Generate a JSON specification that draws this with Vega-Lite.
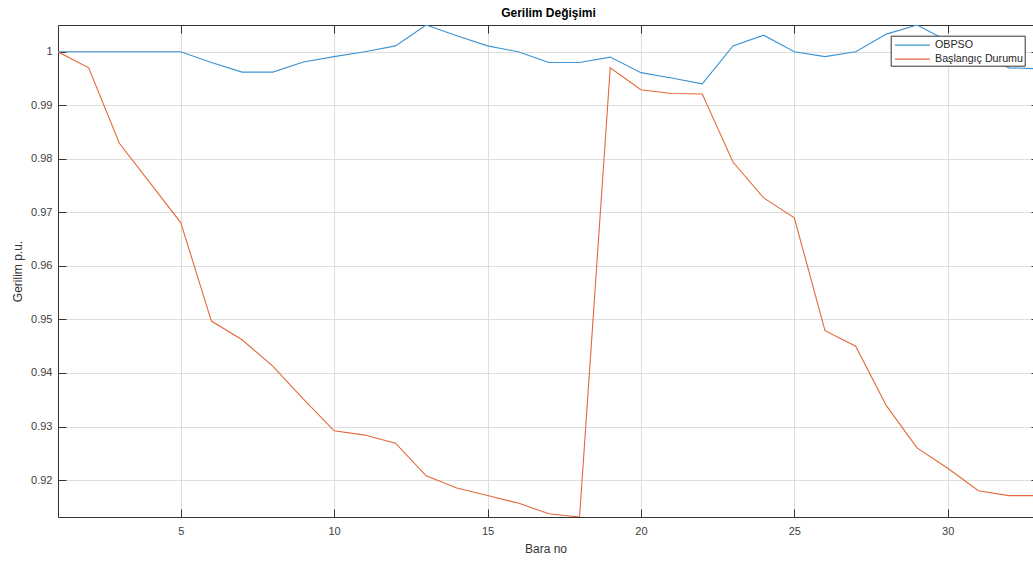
{
  "$schema": "https://vega.github.io/schema/vega-lite/v6.json",
  "autosize": {"type": "none"},
  "width": 975,
  "height": 492,
  "padding": {"left": 58, "top": 25, "right": 0, "bottom": 44},
  "background": "white",
  "title": {"text": "Gerilim Değişimi", "font": "Liberation Sans", "fontSize": 12, "fontWeight": "bold", "color": "#000000", "anchor": "middle", "offset": 5, "dx": 3},
  "config": {
    "view": {"stroke": null},
    "font": "Liberation Sans"
  },
  "data": {"values": [
    {"bara": 1, "seri": "OBPSO", "gerilim": 1.0},
    {"bara": 2, "seri": "OBPSO", "gerilim": 1.0},
    {"bara": 3, "seri": "OBPSO", "gerilim": 1.0},
    {"bara": 4, "seri": "OBPSO", "gerilim": 1.0},
    {"bara": 5, "seri": "OBPSO", "gerilim": 1.0},
    {"bara": 6, "seri": "OBPSO", "gerilim": 0.998},
    {"bara": 7, "seri": "OBPSO", "gerilim": 0.9962},
    {"bara": 8, "seri": "OBPSO", "gerilim": 0.9962},
    {"bara": 9, "seri": "OBPSO", "gerilim": 0.9981},
    {"bara": 10, "seri": "OBPSO", "gerilim": 0.9991},
    {"bara": 11, "seri": "OBPSO", "gerilim": 1.0},
    {"bara": 12, "seri": "OBPSO", "gerilim": 1.0011},
    {"bara": 13, "seri": "OBPSO", "gerilim": 1.005},
    {"bara": 14, "seri": "OBPSO", "gerilim": 1.003},
    {"bara": 15, "seri": "OBPSO", "gerilim": 1.0011},
    {"bara": 16, "seri": "OBPSO", "gerilim": 1.0},
    {"bara": 17, "seri": "OBPSO", "gerilim": 0.998},
    {"bara": 18, "seri": "OBPSO", "gerilim": 0.998},
    {"bara": 19, "seri": "OBPSO", "gerilim": 0.999},
    {"bara": 20, "seri": "OBPSO", "gerilim": 0.9961},
    {"bara": 21, "seri": "OBPSO", "gerilim": 0.9951},
    {"bara": 22, "seri": "OBPSO", "gerilim": 0.994},
    {"bara": 23, "seri": "OBPSO", "gerilim": 1.0011},
    {"bara": 24, "seri": "OBPSO", "gerilim": 1.0031},
    {"bara": 25, "seri": "OBPSO", "gerilim": 1.0},
    {"bara": 26, "seri": "OBPSO", "gerilim": 0.9991},
    {"bara": 27, "seri": "OBPSO", "gerilim": 1.0},
    {"bara": 28, "seri": "OBPSO", "gerilim": 1.0033},
    {"bara": 29, "seri": "OBPSO", "gerilim": 1.005},
    {"bara": 30, "seri": "OBPSO", "gerilim": 1.002},
    {"bara": 31, "seri": "OBPSO", "gerilim": 0.9995},
    {"bara": 32, "seri": "OBPSO", "gerilim": 0.997},
    {"bara": 33, "seri": "OBPSO", "gerilim": 0.9968},
    {"bara": 1, "seri": "Başlangıç Durumu", "gerilim": 1.0},
    {"bara": 2, "seri": "Başlangıç Durumu", "gerilim": 0.997},
    {"bara": 3, "seri": "Başlangıç Durumu", "gerilim": 0.9829},
    {"bara": 4, "seri": "Başlangıç Durumu", "gerilim": 0.9755},
    {"bara": 5, "seri": "Başlangıç Durumu", "gerilim": 0.9681},
    {"bara": 6, "seri": "Başlangıç Durumu", "gerilim": 0.9497},
    {"bara": 7, "seri": "Başlangıç Durumu", "gerilim": 0.9462},
    {"bara": 8, "seri": "Başlangıç Durumu", "gerilim": 0.9413},
    {"bara": 9, "seri": "Başlangıç Durumu", "gerilim": 0.9351},
    {"bara": 10, "seri": "Başlangıç Durumu", "gerilim": 0.9292},
    {"bara": 11, "seri": "Başlangıç Durumu", "gerilim": 0.9284},
    {"bara": 12, "seri": "Başlangıç Durumu", "gerilim": 0.9269},
    {"bara": 13, "seri": "Başlangıç Durumu", "gerilim": 0.9208},
    {"bara": 14, "seri": "Başlangıç Durumu", "gerilim": 0.9185},
    {"bara": 15, "seri": "Başlangıç Durumu", "gerilim": 0.9171},
    {"bara": 16, "seri": "Başlangıç Durumu", "gerilim": 0.9157},
    {"bara": 17, "seri": "Başlangıç Durumu", "gerilim": 0.9137},
    {"bara": 18, "seri": "Başlangıç Durumu", "gerilim": 0.9131},
    {"bara": 19, "seri": "Başlangıç Durumu", "gerilim": 0.9970},
    {"bara": 20, "seri": "Başlangıç Durumu", "gerilim": 0.9929},
    {"bara": 21, "seri": "Başlangıç Durumu", "gerilim": 0.9922},
    {"bara": 22, "seri": "Başlangıç Durumu", "gerilim": 0.9921},
    {"bara": 23, "seri": "Başlangıç Durumu", "gerilim": 0.9794},
    {"bara": 24, "seri": "Başlangıç Durumu", "gerilim": 0.9727},
    {"bara": 25, "seri": "Başlangıç Durumu", "gerilim": 0.9690},
    {"bara": 26, "seri": "Başlangıç Durumu", "gerilim": 0.9479},
    {"bara": 27, "seri": "Başlangıç Durumu", "gerilim": 0.9450},
    {"bara": 28, "seri": "Başlangıç Durumu", "gerilim": 0.9339},
    {"bara": 29, "seri": "Başlangıç Durumu", "gerilim": 0.9260},
    {"bara": 30, "seri": "Başlangıç Durumu", "gerilim": 0.9222},
    {"bara": 31, "seri": "Başlangıç Durumu", "gerilim": 0.9180},
    {"bara": 32, "seri": "Başlangıç Durumu", "gerilim": 0.9171},
    {"bara": 33, "seri": "Başlangıç Durumu", "gerilim": 0.9171}
  ]},
  "layer": [
    {
      "mark": {"type": "line", "strokeWidth": 1.1, "clip": true},
      "encoding": {
        "x": {"field": "bara", "type": "quantitative",
          "scale": {"domain": [1, 32.78], "nice": false, "zero": false},
          "axis": {"orient": "bottom", "title": "Bara no", "values": [5, 10, 15, 20, 25, 30],
            "grid": true, "gridColor": "#dedede", "gridWidth": 1,
            "domain": true, "domainColor": "#333333", "domainWidth": 1,
            "ticks": true, "tickSize": -8, "tickColor": "#333333", "tickWidth": 1,
            "labelFont": "Liberation Sans", "labelFontSize": 11, "labelColor": "#404040", "labelPadding": 16,
            "titleFont": "Liberation Sans", "titleFontSize": 12, "titleFontWeight": "normal", "titleColor": "#333333", "titlePadding": 7}},
        "y": {"field": "gerilim", "type": "quantitative",
          "scale": {"domain": [0.9131, 1.005], "nice": false, "zero": false},
          "axis": {"orient": "left", "title": "Gerilim p.u.", "values": [0.92, 0.93, 0.94, 0.95, 0.96, 0.97, 0.98, 0.99, 1.0], "format": ".2~f",
            "grid": true, "gridColor": "#dedede", "gridWidth": 1,
            "domain": true, "domainColor": "#333333", "domainWidth": 1,
            "ticks": true, "tickSize": -8, "tickColor": "#333333", "tickWidth": 1,
            "labelFont": "Liberation Sans", "labelFontSize": 11, "labelColor": "#404040", "labelPadding": 14,
            "titleFont": "Liberation Sans", "titleFontSize": 12, "titleFontWeight": "normal", "titleColor": "#333333", "titlePadding": 6}},
        "color": {"field": "seri", "type": "nominal",
          "scale": {"domain": ["OBPSO", "Başlangıç Durumu"], "range": ["#3d93d3", "#e2693a"]},
          "legend": {"orient": "none", "legendX": 832.7, "legendY": 10.7, "title": null,
            "direction": "vertical",
            "fillColor": "white", "strokeColor": "#333333", "padding": 1,
            "symbolType": "M-0.69,0H3.97", "symbolSize": 225, "symbolStrokeWidth": 1.2,
            "labelFont": "Liberation Sans", "labelFontSize": 10.7, "labelColor": "#262626", "labelOffset": 26.3,
            "rowPadding": 0}}
      }
    },
    {
      "mark": {"type": "line", "opacity": 0, "clip": true},
      "encoding": {
        "x": {"field": "bara", "type": "quantitative",
          "axis": {"orient": "top", "title": null, "values": [5, 10, 15, 20, 25, 30], "labels": false, "grid": false,
            "domain": true, "domainColor": "#333333", "domainWidth": 1,
            "ticks": true, "tickSize": -8, "tickColor": "#333333", "tickWidth": 1}},
        "y": {"field": "gerilim", "type": "quantitative",
          "axis": {"orient": "right", "title": null, "values": [0.92, 0.93, 0.94, 0.95, 0.96, 0.97, 0.98, 0.99, 1.0], "labels": false, "grid": false,
            "domain": false,
            "ticks": true, "tickSize": -2, "tickColor": "#333333", "tickWidth": 1}},
        "detail": {"field": "seri", "type": "nominal"}
      }
    }
  ],
  "resolve": {"axis": {"x": "independent", "y": "independent"}}
}
